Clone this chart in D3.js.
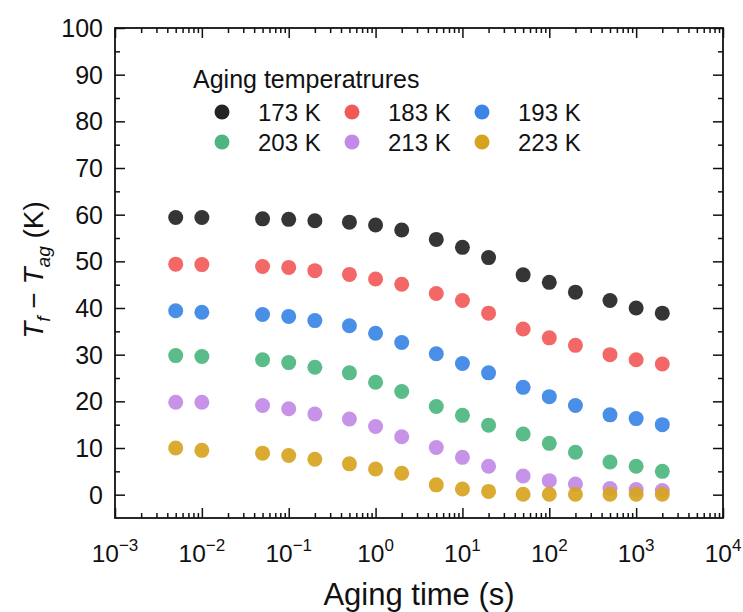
<!DOCTYPE html>
<html>
<head>
<meta charset="utf-8">
<script src="https://cdn.jsdelivr.net/npm/d3@7"></script>
<style>
  body { margin: 0; background: #fff; }
  svg { font-family: "Liberation Sans", Arial, sans-serif; }
</style>
</head>
<body>
<svg id="chart"></svg>
<script>
// aging time (s)
const agingTimes = [0.005, 0.01, 0.05, 0.1, 0.2, 0.5, 1, 2, 5, 10, 20, 50, 100, 200, 500, 1000, 2000];

const temperatures = ['173 K', '183 K', '193 K', '203 K', '213 K', '223 K'];
const colorList = ['#242424', '#f25a5a', '#3a85e6', '#4cb67e', '#c28ae6', '#d7a31f'];

// Tf - Tag (K), one array per aging temperature
const t173 = [59.4, 59.4, 59.1, 59.0, 58.7, 58.4, 57.8, 56.7, 54.7, 53.0, 50.8, 47.1, 45.5, 43.4, 41.6, 40.0, 38.9];
const t183 = [49.4, 49.3, 48.9, 48.7, 48.0, 47.2, 46.2, 45.1, 43.1, 41.6, 38.9, 35.5, 33.6, 32.0, 30.0, 28.9, 28.0];
const t193 = [39.4, 39.1, 38.6, 38.2, 37.3, 36.2, 34.6, 32.6, 30.2, 28.1, 26.1, 23.0, 21.0, 19.1, 17.1, 16.3, 15.0];
const t203 = [29.8, 29.6, 28.9, 28.3, 27.3, 26.1, 24.1, 22.1, 18.9, 17.0, 14.9, 13.0, 11.0, 9.1, 7.0, 6.1, 5.0];
const t213 = [19.8, 19.8, 19.1, 18.4, 17.3, 16.2, 14.6, 12.4, 10.1, 8.0, 6.1, 4.0, 3.0, 2.3, 1.3, 1.1, 0.9];
const t223 = [10.0, 9.5, 8.9, 8.4, 7.6, 6.6, 5.5, 4.6, 2.1, 1.2, 0.7, 0.1, 0.1, 0.1, 0.1, 0.1, 0.1];
const seriesValues = [t173, t183, t193, t203, t213, t223];

const xTickExps = [-3, -2, -1, 0, 1, 2, 3, 4];
const yTicks = [0, 10, 20, 30, 40, 50, 60, 70, 80, 90, 100];

const width = 743;
const height = 612;
const margin = { top: 28, right: 20, bottom: 94, left: 115 };

const svg = d3.select('#chart')
    .attr('width', width)
    .attr('height', height);

const xScale = d3.scaleLog()
    .domain([1e-3, 1e4])
    .range([margin.left, width - margin.right]);

const yScale = d3.scaleLinear()
    .domain([-5, 100])
    .range([height - margin.bottom, margin.top]);

const x0 = margin.left, x1 = width - margin.right;
const y0 = height - margin.bottom, y1 = margin.top;

// minor ticks
let xMinor = [];
xTickExps.slice(0, -1).forEach(e => {
    for (let k = 2; k <= 9; k++) xMinor.push(k * Math.pow(10, e));
});
const yMinor = d3.range(5, 100, 10);
const xMajor = xTickExps.map(e => Math.pow(10, e));

const majorLen = 10, minorLen = 5;

// axes: ticks inside, mirrored on top and right
svg.append('g')
    .attr('transform', `translate(0, ${y0})`)
    .call(d3.axisTop(xScale).tickValues(xMajor).tickSize(majorLen).tickFormat(''))
    .call(g => g.select('.domain').remove());
svg.append('g')
    .attr('transform', `translate(0, ${y0})`)
    .call(d3.axisTop(xScale).tickValues(xMinor).tickSize(minorLen).tickFormat(''))
    .call(g => g.select('.domain').remove());
svg.append('g')
    .attr('transform', `translate(0, ${y1})`)
    .call(d3.axisBottom(xScale).tickValues(xMajor).tickSize(majorLen).tickFormat(''))
    .call(g => g.select('.domain').remove());
svg.append('g')
    .attr('transform', `translate(0, ${y1})`)
    .call(d3.axisBottom(xScale).tickValues(xMinor).tickSize(minorLen).tickFormat(''))
    .call(g => g.select('.domain').remove());

svg.append('g')
    .attr('transform', `translate(${x0}, 0)`)
    .call(d3.axisRight(yScale).tickValues(yTicks).tickSize(majorLen).tickFormat(''))
    .call(g => g.select('.domain').remove());
svg.append('g')
    .attr('transform', `translate(${x0}, 0)`)
    .call(d3.axisRight(yScale).tickValues(yMinor).tickSize(minorLen).tickFormat(''))
    .call(g => g.select('.domain').remove());
svg.append('g')
    .attr('transform', `translate(${x1}, 0)`)
    .call(d3.axisLeft(yScale).tickValues(yTicks).tickSize(majorLen).tickFormat(''))
    .call(g => g.select('.domain').remove());
svg.append('g')
    .attr('transform', `translate(${x1}, 0)`)
    .call(d3.axisLeft(yScale).tickValues(yMinor).tickSize(minorLen).tickFormat(''))
    .call(g => g.select('.domain').remove());

svg.selectAll('.tick line')
    .attr('stroke', '#111')
    .attr('stroke-width', 1.5);

// frame
svg.append('rect')
    .attr('x', x0)
    .attr('y', y1)
    .attr('width', x1 - x0)
    .attr('height', y0 - y1)
    .attr('fill', 'none')
    .attr('stroke', '#111')
    .attr('stroke-width', 1.8);

// y tick labels
svg.append('g')
    .selectAll('text')
    .data(yTicks)
    .join('text')
    .attr('x', x0 - 12)
    .attr('y', d => yScale(d))
    .attr('dy', '0.36em')
    .attr('text-anchor', 'end')
    .attr('font-size', '25px')
    .attr('fill', '#111')
    .text(d => d);

// x tick labels as 10^n
const xLabels = svg.append('g')
    .selectAll('text')
    .data(xTickExps)
    .join('text')
    .attr('x', d => xScale(Math.pow(10, d)))
    .attr('y', 562)
    .attr('text-anchor', 'middle')
    .attr('font-size', '24.5px')
    .attr('fill', '#111');
xLabels.append('tspan').text('10');
xLabels.append('tspan')
    .attr('dy', -11)
    .attr('font-size', '17px')
    .text(d => d < 0 ? '\u2212' + Math.abs(d) : d);

// axis titles
svg.append('text')
    .attr('x', (x0 + x1) / 2)
    .attr('y', 605)
    .attr('text-anchor', 'middle')
    .attr('font-size', '31px')
    .attr('fill', '#111')
    .text('Aging time (s)');

const yTitle = svg.append('text')
    .attr('transform', `translate(43, ${(y0 + y1) / 2 - 3}) rotate(-90)`)
    .attr('text-anchor', 'middle')
    .attr('font-size', '28px')
    .attr('fill', '#111');
yTitle.append('tspan').attr('font-style', 'italic').text('T');
yTitle.append('tspan').attr('font-style', 'italic').attr('font-size', '19px').attr('dy', 7).text('f');
yTitle.append('tspan').attr('dy', -7).text(' \u2212 ');
yTitle.append('tspan').attr('font-style', 'italic').text('T');
yTitle.append('tspan').attr('font-style', 'italic').attr('font-size', '19px').attr('dy', 7).text('ag');
yTitle.append('tspan').attr('dy', -7).text(' (K)');

// points
seriesValues.forEach((vals, i) => {
    svg.append('g')
        .selectAll('circle')
        .data(vals.map((v, j) => ({ t: agingTimes[j], v: v })))
        .join('circle')
        .attr('cx', d => xScale(d.t))
        .attr('cy', d => yScale(d.v))
        .attr('r', 7.5)
        .attr('fill', colorList[i])
        .attr('fill-opacity', 0.92);
});

// legend
const legend = svg.append('g');
legend.append('text')
    .attr('x', 193)
    .attr('y', 88)
    .attr('font-size', '25px')
    .attr('fill', '#111')
    .text('Aging temperatrures');

const legendCols = [222, 352, 482];
const legendRows = [112, 142];
temperatures.forEach((name, i) => {
    const cx = legendCols[i % 3];
    const cy = legendRows[Math.floor(i / 3)];
    legend.append('circle')
        .attr('cx', cx)
        .attr('cy', cy)
        .attr('r', 7.5)
        .attr('fill', colorList[i]);
    legend.append('text')
        .attr('x', cx + 36)
        .attr('y', cy)
        .attr('dy', '0.36em')
        .attr('font-size', '24px')
        .attr('fill', '#111')
        .text(name);
});
</script>
</body>
</html>
